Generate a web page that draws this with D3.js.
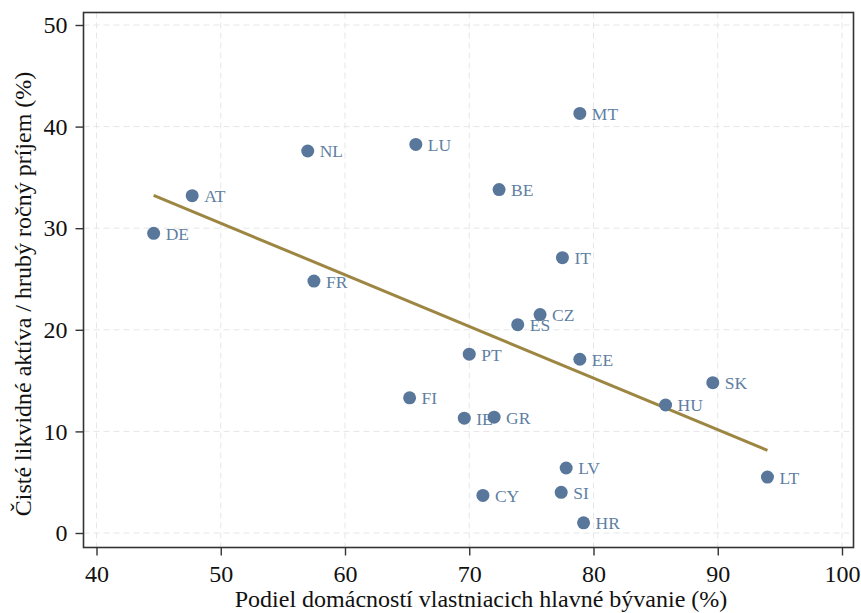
<!DOCTYPE html>
<meta charset="utf-8">
<script src="https://d3js.org/d3.v7.min.js"></script>
<style>
body { margin: 0; background: #fff; }
</style>
<div id="chart"></div>
<script>
// Country codes and values
var countries = ["MT","LU","NL","BE","AT","DE","IT","FR","CZ","ES","PT","EE","SK","HU","FI","IE","GR","LV","LT","SI","CY","HR"];
// share of households owning main residence (%)
var ownership = [78.9,65.7,57.0,72.4,47.7,44.6,77.5,57.5,75.7,73.9,70.0,78.9,89.6,85.8,65.2,69.6,72.0,77.8,94.0,77.4,71.1,79.2];
// net liquid assets / gross annual income (%)
var liquidRatio = [41.3,38.25,37.6,33.8,33.2,29.5,27.1,24.8,21.5,20.5,17.6,17.1,14.8,12.6,13.3,11.3,11.4,6.4,5.5,4.0,3.7,1.0];
var xTicks = [40,50,60,70,80,90,100];
var yTicks = [0,10,20,30,40,50];

var serif = "'Liberation Serif', 'Times New Roman', serif";
var width = 861, height = 613;
var svg = d3.select("#chart").append("svg")
  .attr("width", width).attr("height", height);

// frame of the plot region
var frame = {left: 83.5, right: 853.5, top: 12.5, bottom: 547.5};

var x = d3.scaleLinear().domain([40, 100]).range([96.5, 842]);
var y = d3.scaleLinear().domain([0, 50]).range([533, 25]);

var data = countries.map(function(c, i){
  return {name: c, x: ownership[i], y: liquidRatio[i]};
});

// gridlines
var grid = svg.append("g")
  .attr("stroke", "#e6e6e6")
  .attr("stroke-width", 1)
  .attr("stroke-dasharray", "6,4");
grid.selectAll("line.v").data(xTicks).enter().append("line")
  .attr("x1", function(d){ return x(d); }).attr("x2", function(d){ return x(d); })
  .attr("y1", frame.top).attr("y2", frame.bottom);
grid.selectAll("line.h").data(yTicks).enter().append("line")
  .attr("y1", function(d){ return y(d); }).attr("y2", function(d){ return y(d); })
  .attr("x1", frame.left).attr("x2", frame.right);

// frame
svg.append("rect")
  .attr("x", frame.left).attr("y", frame.top)
  .attr("width", frame.right - frame.left).attr("height", frame.bottom - frame.top)
  .attr("fill", "none").attr("stroke", "#333").attr("stroke-width", 1.6);

// axes
var xAxis = svg.append("g")
  .attr("transform", "translate(0," + frame.bottom + ")")
  .call(d3.axisBottom(x).tickValues(xTicks).tickSize(8).tickPadding(9));
var yAxis = svg.append("g")
  .attr("transform", "translate(" + frame.left + ",0)")
  .call(d3.axisLeft(y).tickValues(yTicks).tickSize(8).tickPadding(8));
[xAxis, yAxis].forEach(function(a){
  a.attr("font-family", null);
  a.select(".domain").remove();
  a.selectAll(".tick line").attr("stroke", "#333").attr("stroke-width", 1.4);
  a.selectAll(".tick text").attr("fill", "#111")
    .style("font-size", "24px").style("font-family", serif);
});

// linear fit (OLS) over the data
var mx = d3.mean(ownership), my = d3.mean(liquidRatio);
var sxy = d3.sum(data, function(d){ return (d.x - mx) * (d.y - my); });
var sxx = d3.sum(data, function(d){ return (d.x - mx) * (d.x - mx); });
var slope = sxy / sxx, intercept = my - slope * mx;
var xr = d3.extent(ownership);
svg.append("line")
  .attr("x1", x(xr[0])).attr("y1", y(intercept + slope * xr[0]))
  .attr("x2", x(xr[1])).attr("y2", y(intercept + slope * xr[1]))
  .attr("stroke", "#9c8642").attr("stroke-width", 3);

// points
svg.append("g").selectAll("circle").data(data).enter().append("circle")
  .attr("cx", function(d){ return x(d.x); })
  .attr("cy", function(d){ return y(d.y); })
  .attr("r", 6.5)
  .attr("fill", "#58779a");

// labels
svg.append("g").selectAll("text").data(data).enter().append("text")
  .attr("x", function(d){ return x(d.x) + 12; })
  .attr("y", function(d){ return y(d.y) + 6.5; })
  .attr("fill", "#5f7fa3")
  .style("font-size", "17.5px").style("font-family", serif)
  .text(function(d){ return d.name; });

// axis titles
svg.append("text")
  .attr("x", 481).attr("y", 607)
  .attr("text-anchor", "middle").attr("fill", "#111")
  .style("font-size", "24px").style("font-family", serif)
  .text("Podiel domácností vlastniacich hlavné bývanie (%)");
svg.append("text")
  .attr("transform", "translate(31,294) rotate(-90)")
  .attr("text-anchor", "middle").attr("fill", "#111")
  .style("font-size", "24px").style("font-family", serif)
  .text("Čisté likvidné aktíva / hrubý ročný príjem (%)");
</script>
